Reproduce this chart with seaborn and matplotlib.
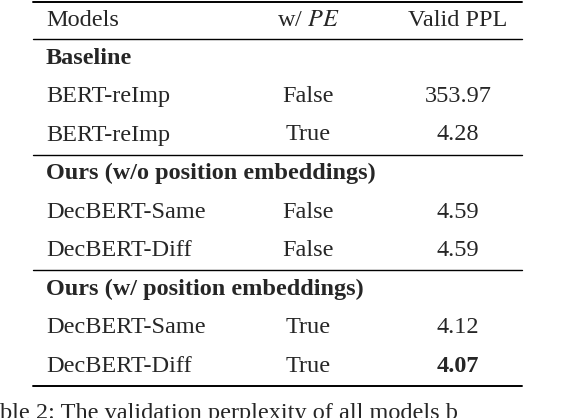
import matplotlib
matplotlib.use("Agg")
import matplotlib.pyplot as plt
import seaborn as sns

# table content
headers = ["Models", "w/ $PE$", "Valid PPL"]
groups = ["Baseline", "Ours (w/o position embeddings)", "Ours (w/ position embeddings)"]
models = [["BERT-reImp", "BERT-reImp"],
          ["DecBERT-Same", "DecBERT-Diff"],
          ["DecBERT-Same", "DecBERT-Diff"]]
use_pe = [["False", "True"], ["False", "False"], ["True", "True"]]
ppl = [["353.97", "4.28"], ["4.59", "4.59"], ["4.12", "4.07"]]
best = "4.07"
caption = "ble 2: The validation perplexity of all models b"

sns.set_theme(style="white")
plt.rcParams["font.family"] = ["Liberation Serif", "DejaVu Serif"]
plt.rcParams["mathtext.fontset"] = "stix"

fig = plt.figure(figsize=(5.62, 4.18), dpi=100)
ax = fig.add_axes([0, 0, 1, 1])
ax.set_xlim(0, 562)
ax.set_ylim(418, 0)
ax.axis("off")

fs = 17.5
x0, x1 = 33, 522
col_x = [46, 308, 458]

def rule(y, lw=1.0):
    ax.plot([x0, x1], [y, y], color="black", lw=lw)

rule(2, 1.4)
ax.text(col_x[0], 20, headers[0], fontsize=fs, va="center", ha="left")
ax.text(col_x[1], 20, headers[1], fontsize=fs, va="center", ha="center")
ax.text(col_x[2], 20, headers[2], fontsize=fs, va="center", ha="center")
rule(39)

y = 58
step = 38.5
for gi, g in enumerate(groups):
    if gi > 0:
        rule(y - 19)
    ax.text(col_x[0], y, g, fontsize=fs, va="center", ha="left", weight="bold")
    y += step
    for m, p, v in zip(models[gi], use_pe[gi], ppl[gi]):
        ax.text(col_x[0], y, m, fontsize=fs, va="center", ha="left")
        ax.text(col_x[1], y, p, fontsize=fs, va="center", ha="center")
        ax.text(col_x[2], y, v, fontsize=fs, va="center", ha="center",
                weight="bold" if (gi == 2 and v == best) else "normal")
        y += step
rule(y - 19, 1.4)

ax.text(0, 414, caption, fontsize=fs, va="center", ha="left")

fig.savefig("out.png", dpi=100)
